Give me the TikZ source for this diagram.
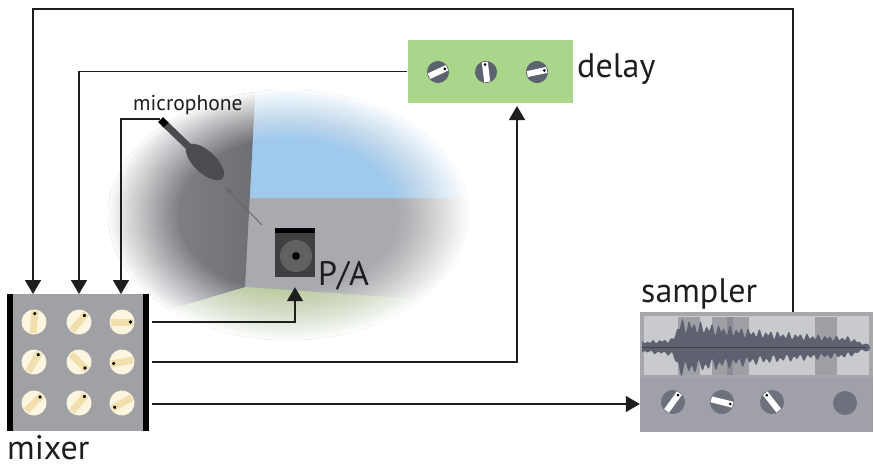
\documentclass[tikz,border=0pt]{standalone}
\usepackage{fontspec}
\setmainfont{PT Sans}
\usetikzlibrary{arrows.meta,calc}

\definecolor{linecol}{HTML}{1E1E1E}
\definecolor{mixgray}{HTML}{A0A1A5}
\definecolor{knobcream}{HTML}{FCF6E1}
\definecolor{knobbeige}{HTML}{F1DFAE}
\definecolor{delaygreen}{HTML}{A9D68B}
\definecolor{slate}{HTML}{5B6371}
\definecolor{smpslate}{HTML}{6C717C}
\definecolor{wavebg}{HTML}{C9CACE}
\definecolor{waveframe}{HTML}{A6A7AC}
\definecolor{smplower}{HTML}{9FA0A9}
\definecolor{wavedark}{HTML}{5E6170}
\definecolor{selshade}{HTML}{7E7F86}
\definecolor{skyblue}{HTML}{9FCAEC}
\definecolor{wallgray}{HTML}{6E6F74}
\definecolor{wallgraylight}{HTML}{8E8F94}
\definecolor{backwall}{HTML}{A9AAAF}
\definecolor{floorgreen}{HTML}{BCCDA3}
\definecolor{speakerbody}{HTML}{3F3F41}
\definecolor{speakercone}{HTML}{616163}
\definecolor{micgray}{HTML}{4B4C50}

% cream mixer knob: centre x, centre y, pointer angle
\newcommand{\mixerknob}[3]{%
  \begin{scope}[shift={(#1,#2)},rotate=#3]
    \fill[knobcream] (0,0) circle[radius=12.5pt];
    \fill[knobbeige] (-11pt,-3.5pt) rectangle (11pt,3.5pt);
    \fill[black] (8.5pt,0pt) circle[radius=1.8pt];
  \end{scope}}
% slate knob with white pointer: centre x, centre y, angle, radius, colour
\newcommand{\slateknob}[5]{%
  \begin{scope}[shift={(#1,#2)},rotate=#3]
    \fill[#5] (0,0) circle[radius=#4pt];
    \fill[white] (-#4pt+1pt,-3pt) rectangle (#4pt-1pt,3pt);
    \fill[black] (#4pt-3.5pt,0pt) circle[radius=1.5pt];
  \end{scope}}

\begin{document}
\begin{tikzpicture}[x=1pt,y=-1pt,
  conn/.style={draw=linecol, line width=1.6pt},
  arrowconn/.style={conn, -{Triangle[length=14pt,width=16pt]}},
  bigtext/.style={font=\fontsize{34}{34}\selectfont, text=linecol, inner sep=0pt, text depth=0pt, anchor=base west},
  smalltext/.style={font=\fontsize{21.5}{21.5}\selectfont, text=linecol, inner sep=0pt, text depth=0pt, anchor=base west},
  declare function={
    wenv(\t)=min(1,(872-\t)/22)*((\t<672)*(6+3*(\t-642)/30)+and(\t>=672,\t<680)*(9+2.6*(\t-672))+(\t>=680)*(4+26*exp(-(\t-680)/130)));
    wjitA(\t)=0.74+0.16*sin(61*(\t-640))+0.1*sin(37*(\t-640));
    wjitB(\t)=0.74+0.16*sin(53*(\t-640)+40)+0.1*sin(29*(\t-640));
  }]
\useasboundingbox (0,0) rectangle (874,467);

% ---------- room scene with soft edge ----------
\begin{scope}
  \clip (288,215) ellipse [x radius=180, y radius=125];
  \fill[backwall] (100,80) rectangle (480,350);
  \fill[skyblue] (252,80) -- (480,80) -- (480,198) -- (249,198) -- cycle;
  \fill[floorgreen] (245,287) -- (480,303) -- (480,350) -- (100,350) -- (100,330) -- cycle;
  \shade[left color=wallgraylight, right color=wallgray]
    (100,80) -- (256,80) -- (245,287) -- (100,330) -- cycle;
  \foreach \k in {1,...,30}{
    \pgfmathsetmacro\s{0.6+0.4*\k/30}
    \pgfmathsetmacro\op{1/(31-\k)}
    \fill[white, opacity=\op, even odd rule]
      (288,215) ellipse [x radius=190, y radius=135]
      (288,215) ellipse [x radius=180*\s, y radius=125*\s];
  }
\end{scope}

% ---------- microphone ----------
\coordinate (mic) at (160,119);
\draw[micgray, line width=7pt] (164,123) -- (190,148);
\draw[black, line width=7pt] (160.5,119.5) -- (166,125);
\fill[micgray, rotate around={-43:(205,162)}] (205,162) ellipse [x radius=24pt, y radius=11pt];
\node[smalltext] (miclabel) at (133,110) {microphone};

% ---------- P/A speaker ----------
\node[fill=speakerbody, minimum width=40pt, minimum height=49pt, inner sep=0pt] (pa) at (295,252.5) {};
\fill[black] (pa.north west) rectangle ([yshift=-5pt]pa.north east);
\fill[speakercone] (296,256) circle[radius=16pt];
\fill[black] (296,256) circle[radius=4pt];
\node[bigtext] (palabel) at (318,285) {P/A};
\coordinate (soundfrom) at (262,225);
\coordinate (soundto) at (226,188);
\draw[micgray!85, line width=0.9pt, -{Stealth[length=7pt,width=6pt]}] (soundfrom) -- (soundto);

% ---------- mixer ----------
\node[fill=mixgray, minimum width=142pt, minimum height=137pt, inner sep=0pt] (mixer) at (78,362.5) {};
\fill[black] (mixer.north west) rectangle ([xshift=6pt]mixer.south west);
\fill[black] ([xshift=-6pt]mixer.north east) rectangle (mixer.south east);
\mixerknob{34}{322}{85}
\mixerknob{79}{322}{50}
\mixerknob{122}{322}{0}
\mixerknob{34}{362}{60}
\mixerknob{79}{362}{-45}
\mixerknob{122}{362}{190}
\mixerknob{34}{403}{45}
\mixerknob{79}{403}{50}
\mixerknob{122}{403}{210}
\node[bigtext] (mixerlabel) at (7,459) {mixer};

% ---------- delay ----------
\node[fill=delaygreen, minimum width=165pt, minimum height=63pt, inner sep=0pt] (delay) at (490,71.5) {};
\slateknob{438}{72}{25}{11}{slate}
\slateknob{486}{72}{97}{11}{slate}
\slateknob{537}{72}{12}{11}{slate}
\node[bigtext] (delaylabel) at (577,77) {delay};

% ---------- sampler ----------
\node[fill=smplower, minimum width=233pt, minimum height=120pt, inner sep=0pt] (sampler) at (756.5,372) {};
\fill[waveframe] (640,312) rectangle (873,378);
\fill[wavebg] (644,316) rectangle (869,375);
\fill[selshade, opacity=0.55] (678,317) rectangle (700,375);
\fill[selshade, opacity=0.55] (712,317) rectangle (749,375);
\fill[selshade, opacity=0.55] (727,317) rectangle (733,375);
\fill[selshade, opacity=0.55] (815,317) rectangle (837,375);
\fill[wavedark]
  plot[domain=642:868, samples=200] (\x,{347-wenv(\x)*wjitA(\x)})
  -- plot[domain=868:642, samples=200] (\x,{347+wenv(\x)*wjitB(\x)}) -- cycle;
\fill[wavedark] (866,347.5) circle[radius=4pt];
\draw[wavedark!70!black, line width=0.6pt] (642,347) -- (866,347);
\slateknob{673}{402}{54}{12}{smpslate}
\slateknob{722}{402}{-14}{12}{smpslate}
\slateknob{772}{402}{128}{12}{smpslate}
\fill[smpslate] (845,403) circle[radius=12pt];
\node[bigtext] (samplerlabel) at (641,302) {sampler};

% ---------- connectors ----------
\coordinate (mixin1) at (33,294);
\coordinate (mixin2) at (79,294);
\coordinate (mixin3) at (121,294);
\coordinate (mixout1) at (152,322);
\coordinate (mixout2) at (152,362);
\coordinate (mixout3) at (152,404);
\coordinate (smpout) at (793,312);
\coordinate (dlyin) at (517,106);

\draw[arrowconn] (smpout) -- ++(0,-303) -| (mixin1);
\draw[arrowconn] (delay.west) -| (mixin2);
\draw[arrowconn] (mic) -| (mixin3);
\draw[arrowconn] (mixout1) -| ([yshift=-10pt]pa.south);
\draw[arrowconn] (mixout2) -| (dlyin);
\draw[arrowconn] (mixout3) -- (mixout3 -| sampler.west);
\end{tikzpicture}
\end{document}
